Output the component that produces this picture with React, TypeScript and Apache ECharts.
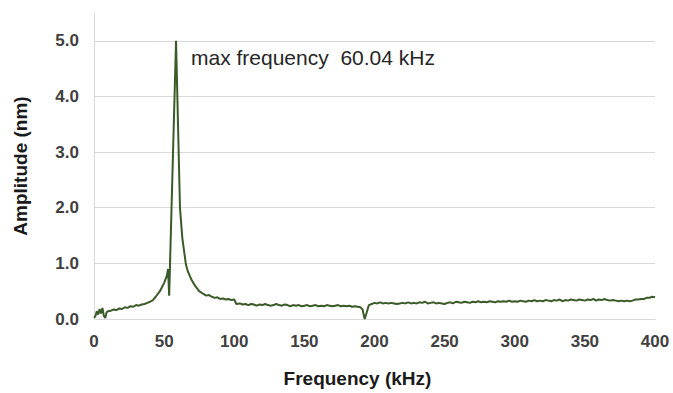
import React, { useEffect, useRef } from "react";
import * as echarts from "echarts";

const frequencyKHz: number[] = [
  0, 1, 2, 3, 4, 5, 6, 7, 8, 9, 10, 12, 14, 16, 18, 20, 22, 24, 26, 28, 30, 32, 34, 36, 38, 40, 42, 44, 47, 50, 52, 52.8, 53.6, 58.5, 61.3, 63, 65.6, 67, 69.6, 72, 75, 78, 80, 82, 84, 86, 88, 90, 92, 94, 96, 98, 100, 101.5,
  102, 104, 106, 108, 110, 112, 114, 116, 118, 120, 122, 124, 126, 128, 130, 132, 134, 136, 138, 140, 142, 144, 146, 148, 150, 152, 154, 156, 158, 160, 162, 164, 166, 168, 170, 172, 174, 176, 178, 180, 182, 184, 186, 188, 190, 191.5, 193, 194.5, 196, 198, 200,
  202, 204, 206, 208, 210, 212, 214, 216, 218, 220, 222, 224, 226, 228, 230, 232, 234, 236, 238, 240, 242, 244, 246, 248, 250, 252, 254, 256, 258, 260, 262, 264, 266, 268, 270, 272, 274, 276, 278, 280, 282, 284, 286, 288, 290, 292, 294, 296, 298, 300,
  302, 304, 306, 308, 310, 312, 314, 316, 318, 320, 322, 324, 326, 328, 330, 332, 334, 336, 338, 340, 342, 344, 346, 348, 350, 352, 354, 356, 358, 360, 362, 364, 366, 368, 370, 372, 374, 376, 378, 380, 382, 384, 386, 388, 390, 392, 394, 396, 398, 400,
];

const amplitudeNm: number[] = [
  0.02, 0.05, 0.14, 0.08, 0.18, 0.1, 0.2, 0.06, 0.02, 0.12, 0.14, 0.15, 0.17, 0.16, 0.19, 0.18, 0.21, 0.2, 0.23, 0.22, 0.25, 0.24, 0.26, 0.27, 0.29, 0.31, 0.34, 0.4, 0.5, 0.65, 0.78, 0.9, 0.42, 5.0, 2.0, 1.45, 0.97, 0.85, 0.7, 0.6, 0.5, 0.45, 0.42, 0.43, 0.4, 0.38, 0.39, 0.36, 0.37, 0.35, 0.36, 0.34, 0.35, 0.27,
  0.27, 0.28, 0.26, 0.27, 0.25, 0.27, 0.26, 0.24, 0.26, 0.25, 0.27, 0.25, 0.24, 0.25, 0.27, 0.25, 0.24, 0.26, 0.25, 0.23, 0.25, 0.24, 0.25, 0.23, 0.24, 0.25, 0.23, 0.24, 0.25, 0.23, 0.24, 0.23, 0.25, 0.24, 0.23, 0.24, 0.25, 0.23, 0.24, 0.23, 0.24, 0.22, 0.23, 0.22, 0.21, 0.17, 0.0, 0.12, 0.25, 0.27, 0.29,
  0.28, 0.3, 0.28, 0.29, 0.28, 0.29, 0.28, 0.27, 0.28, 0.29, 0.28, 0.3, 0.28, 0.29, 0.28, 0.3, 0.29, 0.31, 0.28, 0.29, 0.3, 0.28, 0.29, 0.28, 0.27, 0.29, 0.3, 0.28, 0.31, 0.3, 0.29, 0.31, 0.3, 0.29, 0.31, 0.3, 0.32, 0.3, 0.31, 0.3, 0.32, 0.31, 0.3, 0.32, 0.31, 0.32, 0.31, 0.33, 0.31, 0.32,
  0.31, 0.33, 0.32, 0.31, 0.33, 0.32, 0.34, 0.32, 0.33, 0.32, 0.34, 0.33, 0.32, 0.34, 0.33, 0.35, 0.32, 0.34, 0.33, 0.35, 0.34, 0.33, 0.35, 0.34, 0.33, 0.35, 0.34, 0.36, 0.33, 0.35, 0.34, 0.36, 0.34, 0.33, 0.34, 0.33, 0.32, 0.33, 0.32, 0.33, 0.32, 0.33, 0.35, 0.35, 0.36, 0.36, 0.38, 0.38, 0.4, 0.39,
];

const xTicks: number[] = [0, 50, 100, 150, 200, 250, 300, 350, 400];
const yTickLabels: string[] = ["0.0", "1.0", "2.0", "3.0", "4.0", "5.0"];
const annotationText = "max frequency  60.04 kHz";
const xTitle = "Frequency (kHz)";
const yTitle = "Amplitude (nm)";

export default function App() {
  const ref = useRef<HTMLDivElement>(null);
  useEffect(() => {
    if (!ref.current) return;
    const chart = echarts.init(ref.current, undefined, { renderer: "svg" });
    const font = "'Liberation Sans', Arial, sans-serif";
    const grid = "#d9d9d9";
    chart.setOption({
      animation: false,
      grid: { left: 94, right: 18, top: 13, bottom: 70 },
      xAxis: {
        type: "value",
        min: xTicks[0],
        max: xTicks[xTicks.length - 1],
        interval: 50,
        name: xTitle,
        nameLocation: "middle",
        nameGap: 50,
        nameTextStyle: {
          fontFamily: font,
          fontWeight: "bold",
          fontSize: 19,
          color: "#1a1a1a",
          padding: [0, 34, 0, 0],
        },
        axisLine: { show: true, lineStyle: { color: grid, width: 1 } },
        axisTick: { show: false },
        splitLine: { show: false },
        axisLabel: {
          margin: 14,
          fontFamily: font,
          fontWeight: "bold",
          fontSize: 17,
          color: "#404040",
        },
      },
      yAxis: {
        type: "value",
        min: 0,
        max: 5.5,
        interval: 1,
        name: yTitle,
        nameLocation: "middle",
        nameGap: 64,
        nameTextStyle: {
          fontFamily: font,
          fontWeight: "bold",
          fontSize: 19,
          color: "#1a1a1a",
        },
        axisLine: { show: true, lineStyle: { color: grid, width: 1 } },
        axisTick: { show: false },
        splitLine: {
          show: true,
          lineStyle: {
            color: [grid, grid, grid, grid, grid, grid, "rgba(0,0,0,0)"],
            width: 1,
          },
        },
        axisLabel: {
          margin: 15,
          showMaxLabel: false,
          fontFamily: font,
          fontWeight: "bold",
          fontSize: 17,
          color: "#404040",
          formatter: (v: number) => {
            const i = Math.round(v);
            return Math.abs(v - i) < 1e-9 && yTickLabels[i] ? yTickLabels[i] : "";
          },
        },
      },
      series: [
        {
          type: "line",
          data: frequencyKHz.map((f, i) => [f, amplitudeNm[i]]),
          showSymbol: false,
          symbol: "none",
          lineStyle: { color: "#3a5a27", width: 2 },
          itemStyle: { color: "#3a5a27" },
        },
      ],
      graphic: [
        {
          type: "text",
          left: 191,
          top: 47,
          style: {
            text: annotationText,
            font: `21px ${font}`,
            fill: "#262626",
          },
        },
      ],
    });
    return () => chart.dispose();
  }, []);
  return <div ref={ref} style={{ width: 673, height: 393, position: "absolute", left: 0, top: 0 }} />;
}
